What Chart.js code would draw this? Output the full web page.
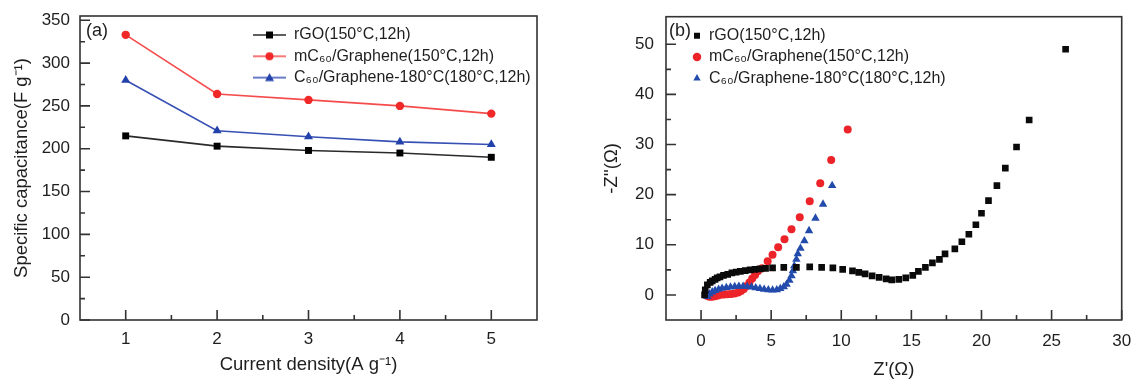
<!DOCTYPE html>
<html>
<head>
<meta charset="utf-8">
<title>Specific capacitance and Nyquist plots</title>
<script src="https://cdn.jsdelivr.net/npm/chart.js@4.4.1/dist/chart.umd.min.js"></script>
<style>
    body { margin: 0; background: #fff; }
    canvas { position: absolute; top: 0; }
</style>
</head>
<body>
<canvas id="capChart" width="565" height="381" style="left:0px"></canvas>
<canvas id="eisChart" width="566" height="381" style="left:565px"></canvas>
<script>
// ---- data, panel (a) ----
const currentDensity = [1, 2, 3, 4, 5];
const capRGO = [215, 203, 198, 195, 190];
const capMC60 = [333, 264, 257, 250, 241];
const capC60 = [280, 221, 214, 208, 205];

// ---- data, panel (b): [Z', -Z''] ----
const nyquistRGO = [
    [0.25, 0.0], [0.3, 1.0], [0.45, 2.0], [0.65, 2.5], [0.8, 2.8], [1.0, 3.1], [1.15, 3.4],
    [1.35, 3.6], [1.6, 3.9], [1.9, 4.1], [2.2, 4.4], [2.5, 4.55], [2.8, 4.7], [3.15, 4.85],
    [3.5, 5.0], [3.85, 5.1], [4.2, 5.2], [4.6, 5.3], [5.1, 5.4], [5.9, 5.5], [6.8, 5.5],
    [7.75, 5.6], [8.6, 5.5], [9.4, 5.4], [10.1, 5.1], [10.8, 4.8], [11.25, 4.5], [11.7, 4.2],
    [12.2, 3.8], [12.7, 3.5], [13.2, 3.2], [13.6, 3.0], [14.1, 3.1], [14.6, 3.4], [15.1, 3.9],
    [15.5, 4.7], [16.0, 5.5], [16.5, 6.4], [17.0, 7.1], [17.4, 8.2], [18.1, 9.2], [18.6, 10.6],
    [19.1, 12.1], [19.6, 14.0], [20.0, 16.3], [20.5, 18.8], [21.1, 21.8], [21.7, 25.3],
    [22.5, 29.5], [23.4, 34.9], [26.0, 49.0]
];
const nyquistMC60 = [
    [0.45, -0.2], [0.6, -0.35], [0.8, -0.35], [1.0, -0.25], [1.2, -0.1], [1.4, 0.05], [1.65, 0.1],
    [1.9, 0.15], [2.15, 0.2], [2.4, 0.3], [2.65, 0.5], [2.85, 0.8], [3.05, 1.2], [3.25, 1.8],
    [3.45, 2.5], [3.65, 3.3], [3.85, 4.0], [4.05, 4.7], [4.35, 5.3], [4.75, 6.7], [5.1, 8.0],
    [5.5, 9.5], [5.95, 11.1], [6.45, 13.1], [7.04, 15.5], [7.75, 18.7], [8.5, 22.3],
    [9.28, 26.9], [10.46, 33.0]
];
const nyquistC60 = [
    [0.45, -0.3], [0.6, 0.2], [0.8, 0.6], [1.0, 0.85], [1.25, 1.1], [1.5, 1.3], [1.8, 1.45],
    [2.1, 1.55], [2.4, 1.65], [2.7, 1.7], [3.0, 1.7], [3.3, 1.65], [3.6, 1.55], [3.9, 1.4],
    [4.2, 1.25], [4.5, 1.1], [4.8, 1.0], [5.1, 0.95], [5.4, 1.0], [5.65, 1.25], [5.9, 1.6],
    [6.1, 2.1], [6.3, 2.9], [6.45, 3.8], [6.55, 4.8], [6.65, 5.8], [6.8, 7.1], [6.9, 8.2],
    [7.09, 9.3], [7.37, 10.8], [7.7, 12.8], [8.16, 15.3], [8.7, 18.1], [9.35, 21.8]
];

const seriesNames = ['rGO(150°C,12h)', 'mC₆₀/Graphene(150°C,12h)', 'C₆₀/Graphene-180°C(180°C,12h)'];
const capTicksX = [1, 2, 3, 4, 5];
const capTicksY = [0, 50, 100, 150, 200, 250, 300, 350];
const eisTicksX = [0, 5, 10, 15, 20, 25, 30];
const eisTicksY = [0, 10, 20, 30, 40, 50];

const FONT = '"Liberation Sans", Arial, Helvetica, sans-serif';
Chart.defaults.font.family = FONT;
Chart.defaults.color = '#1e1e1e';
Chart.defaults.animation = false;

function midpoints(ticks) {
    let m = [];
    for (let i = 0; i < ticks.length - 1; i++) {
        m.push((ticks[i] + ticks[i + 1]) / 2);
    }
    return m;
}

// box around the plot, inward ticks, panel letter
const framePlugin = {
    id: 'frame',
    afterDraw(chart, args, opts) {
        const ctx = chart.ctx;
        const a = chart.chartArea;
        const sx = chart.scales.x, sy = chart.scales.y;
        ctx.save();
        ctx.strokeStyle = '#333';
        ctx.lineWidth = 1.6;
        ctx.strokeRect(a.left, a.top, a.right - a.left, a.bottom - a.top);
        ctx.beginPath();
        const tickX = (v, len) => {
            const p = sx.getPixelForValue(v);
            ctx.moveTo(p, a.bottom); ctx.lineTo(p, a.bottom - len);
        };
        const tickY = (v, len) => {
            const p = sy.getPixelForValue(v);
            ctx.moveTo(a.left, p); ctx.lineTo(a.left + len, p);
        };
        opts.xMajor.forEach(v => tickX(v, 10));
        midpoints(opts.xMajor).forEach(v => tickX(v, 5));
        opts.yMajor.forEach(v => tickY(v, 10));
        midpoints(opts.yMajor).forEach(v => tickY(v, 5));
        ctx.stroke();
        ctx.fillStyle = '#1e1e1e';
        ctx.font = '18px ' + FONT;
        ctx.textBaseline = 'middle';
        ctx.fillText(opts.label, a.left + opts.labelDx, 31);
        ctx.restore();
    }
};

// put the legend inside the plot box
const legendShift = {
    id: 'legendShift',
    afterLayout(chart, args, opts) {
        const lg = chart.legend;
        lg.left = chart.chartArea.left + opts.dx;
        lg.top = chart.chartArea.top + opts.dy;
        lg.right = lg.left + lg.width;
        lg.bottom = lg.top + lg.height;
    }
};

function legendIcon(lineColor, markColor, style) {
    const c = document.createElement('canvas');
    c.width = 33;
    c.height = 12;
    const g = c.getContext('2d');
    g.strokeStyle = lineColor;
    g.lineWidth = 1.6;
    g.beginPath();
    g.moveTo(0, 6);
    g.lineTo(33, 6);
    g.stroke();
    g.fillStyle = markColor;
    g.beginPath();
    if (style === 'rect') {
        g.rect(13, 2.5, 7, 7);
    } else if (style === 'circle') {
        g.arc(16.5, 6, 4, 0, 2 * Math.PI);
    } else {
        g.moveTo(16.5, 1.5); g.lineTo(21, 9.5); g.lineTo(12, 9.5); g.closePath();
    }
    g.fill();
    return c;
}

function xAxis(min, max, ticks, title, tickPad, titlePad, height) {
    return {
        type: 'linear',
        min: min,
        max: max,
        afterBuildTicks: s => { s.ticks = ticks.map(v => ({value: v})); },
        afterFit: s => { s.height = height; s.paddingLeft = 0; s.paddingRight = 0; },
        grid: {display: false, drawTicks: false},
        border: {display: false},
        ticks: {padding: tickPad, autoSkip: false, maxRotation: 0, font: {size: 17}, color: '#1e1e1e'},
        title: {display: true, text: title, font: {size: 18.5}, padding: {top: 0, bottom: titlePad}, color: '#1e1e1e'}
    };
}

function yAxis(min, max, ticks, title, tickPad, titlePad, width) {
    return {
        type: 'linear',
        min: min,
        max: max,
        afterBuildTicks: s => { s.ticks = ticks.map(v => ({value: v})); },
        afterFit: s => { s.width = width; s.paddingTop = 0; s.paddingBottom = 0; },
        grid: {display: false, drawTicks: false},
        border: {display: false},
        ticks: {padding: tickPad, autoSkip: false, font: {size: 17}, color: '#1e1e1e'},
        title: {display: true, text: title, font: {size: 18.5}, padding: {top: titlePad, bottom: 0}, color: '#1e1e1e'}
    };
}

// ---- panel (a) ----
const capColors = [
    {line: '#2a2a2a', mark: '#000000', style: 'rect', radius: 4.9},
    {line: 'rgb(245,75,75)', mark: 'rgb(240,40,40)', style: 'circle', radius: 4.2},
    {line: 'rgb(55,80,180)', mark: 'rgb(35,65,170)', style: 'triangle', radius: 5.2}
];
const capIcons = capColors.map(c => legendIcon(c.line, c.mark, c.style));

const capChart = new Chart(document.getElementById('capChart'), {
    type: 'line',
    data: {
        datasets: [capRGO, capMC60, capC60].map((vals, i) => ({
            label: seriesNames[i],
            data: vals.map((v, j) => ({x: currentDensity[j], y: v})),
            borderColor: capColors[i].line,
            borderWidth: 1.6,
            pointStyle: capColors[i].style,
            pointRadius: capColors[i].radius,
            pointBackgroundColor: capColors[i].mark,
            pointBorderWidth: 0,
            tension: 0,
            fill: false
        }))
    },
    options: {
        responsive: false,
        devicePixelRatio: 1,
        layout: {padding: {left: 0, right: 28, top: 16, bottom: 0}},
        scales: {
            x: xAxis(0.5, 5.5, capTicksX, 'Current density(A g⁻¹)', 9, 5, 61),
            y: yAxis(0, 355, capTicksY, 'Specific capacitance(F g⁻¹)', 10, 11, 80)
        },
        plugins: {
            tooltip: {enabled: false},
            legend: {
                position: 'chartArea',
                align: 'start',
                labels: {
                    usePointStyle: true,
                    pointStyleWidth: 33,
                    padding: 5.3,
                    color: '#1e1e1e',
                    font: {size: 16},
                    generateLabels: chart => {
                        const items = Chart.defaults.plugins.legend.labels.generateLabels(chart);
                        items.forEach(it => { it.pointStyle = capIcons[it.datasetIndex]; });
                        return items;
                    }
                }
            },
            legendShift: {dx: 167.7, dy: 5.7},
            frame: {xMajor: capTicksX, yMajor: capTicksY, label: '(a)', labelDx: 6}
        }
    },
    plugins: [framePlugin, legendShift]
});

// ---- panel (b) ----
const eisColors = [
    {color: '#0a0a0a', style: 'rect', radius: 4.7, order: 0},
    {color: 'rgb(236,35,40)', style: 'circle', radius: 4.0, order: 2},
    {color: 'rgb(35,75,172)', style: 'triangle', radius: 4.9, order: 1}
];

const eisChart = new Chart(document.getElementById('eisChart'), {
    type: 'scatter',
    data: {
        datasets: [nyquistRGO, nyquistMC60, nyquistC60].map((pts, i) => ({
            label: seriesNames[i],
            data: pts.map(p => ({x: p[0], y: p[1]})),
            order: eisColors[i].order,
            pointStyle: eisColors[i].style,
            pointRadius: eisColors[i].radius,
            pointBackgroundColor: eisColors[i].color,
            backgroundColor: eisColors[i].color,
            borderColor: eisColors[i].color,
            pointBorderWidth: 0,
            showLine: false
        }))
    },
    options: {
        responsive: false,
        devicePixelRatio: 1,
        layout: {padding: {left: 0, right: 9.3, top: 16.7, bottom: 0}},
        scales: {
            x: xAxis(-2.5, 30, eisTicksX, "Z'(Ω)", 11, 0, 61),
            y: yAxis(-5, 55.5, eisTicksY, "-Z''(Ω)", 12, 36, 101)
        },
        plugins: {
            tooltip: {enabled: false},
            legend: {
                position: 'chartArea',
                align: 'start',
                labels: {
                    usePointStyle: true,
                    boxWidth: 8,
                    boxHeight: 6,
                    padding: 5.3,
                    color: '#1e1e1e',
                    font: {size: 16},
                    sort: (a, b) => a.datasetIndex - b.datasetIndex
                }
            },
            legendShift: {dx: 21.7, dy: 5.7},
            frame: {xMajor: eisTicksX, yMajor: eisTicksY, label: '(b)', labelDx: 3}
        }
    },
    plugins: [framePlugin, legendShift]
});
</script>
</body>
</html>
